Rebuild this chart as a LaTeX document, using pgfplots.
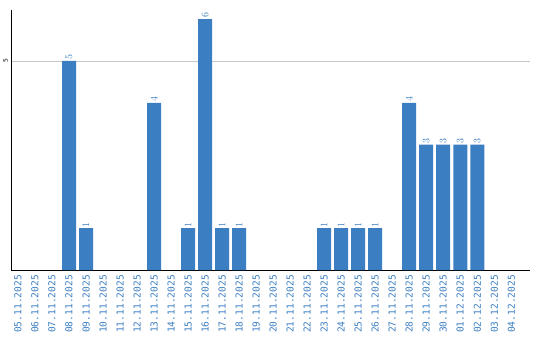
\documentclass[border=0pt]{standalone}
\usepackage{pgfplots}
\pgfplotsset{compat=1.18}
\usepackage{fontspec}
\setmainfont{DejaVu Sans}
\newfontfamily\labfont{DejaVu Sans Mono}
\definecolor{barblue}{RGB}{59,126,194}
\begin{document}
\begin{tikzpicture}
\path[use as bounding box] (-11bp,-70bp) rectangle (529bp,270bp);
\begin{axis}[
  at={(0,0)}, anchor=south west,
  scale only axis, width=519bp, height=260bp,
  xmin=-0.41, xmax=30.1, ymin=0, ymax=6.22,
  axis x line*=bottom, axis y line*=left,
  x axis line style={-, black, line width=1pt},
  y axis line style={-, black, line width=1pt},
  xtick={0,...,29},
  xticklabels={05.11.2025,06.11.2025,07.11.2025,08.11.2025,09.11.2025,10.11.2025,11.11.2025,12.11.2025,13.11.2025,14.11.2025,15.11.2025,16.11.2025,17.11.2025,18.11.2025,19.11.2025,20.11.2025,21.11.2025,22.11.2025,23.11.2025,24.11.2025,25.11.2025,26.11.2025,27.11.2025,28.11.2025,29.11.2025,30.11.2025,01.12.2025,02.12.2025,03.12.2025,04.12.2025},
  x tick label style={rotate=90, anchor=east, font=\labfont\fontsize{9.6}{10}\selectfont, text=barblue, inner sep=1pt},
  xticklabel shift=4bp,
  ytick={5}, yticklabels={5},
  y tick label style={rotate=90, anchor=south, font=\fontsize{6}{7}\selectfont, inner sep=1pt},
  yticklabel shift=2bp,
  major tick length=0pt,
  ymajorgrids, grid style={gray!45, line width=0.8pt},
  ybar, bar width=14bp, bar shift=0pt,
  nodes near coords,
  every node near coord/.append style={rotate=90, anchor=west, font=\labfont\fontsize{9.6}{10}\selectfont, text=barblue, inner sep=1pt},
]
\addplot[fill=barblue, draw=none] coordinates {
(3,5) (4,1) (8,4) (10,1) (11,6) (12,1) (13,1) (18,1) (19,1) (20,1) (21,1) (23,4) (24,3) (25,3) (26,3) (27,3)
};
\end{axis}
\end{tikzpicture}
\end{document}
